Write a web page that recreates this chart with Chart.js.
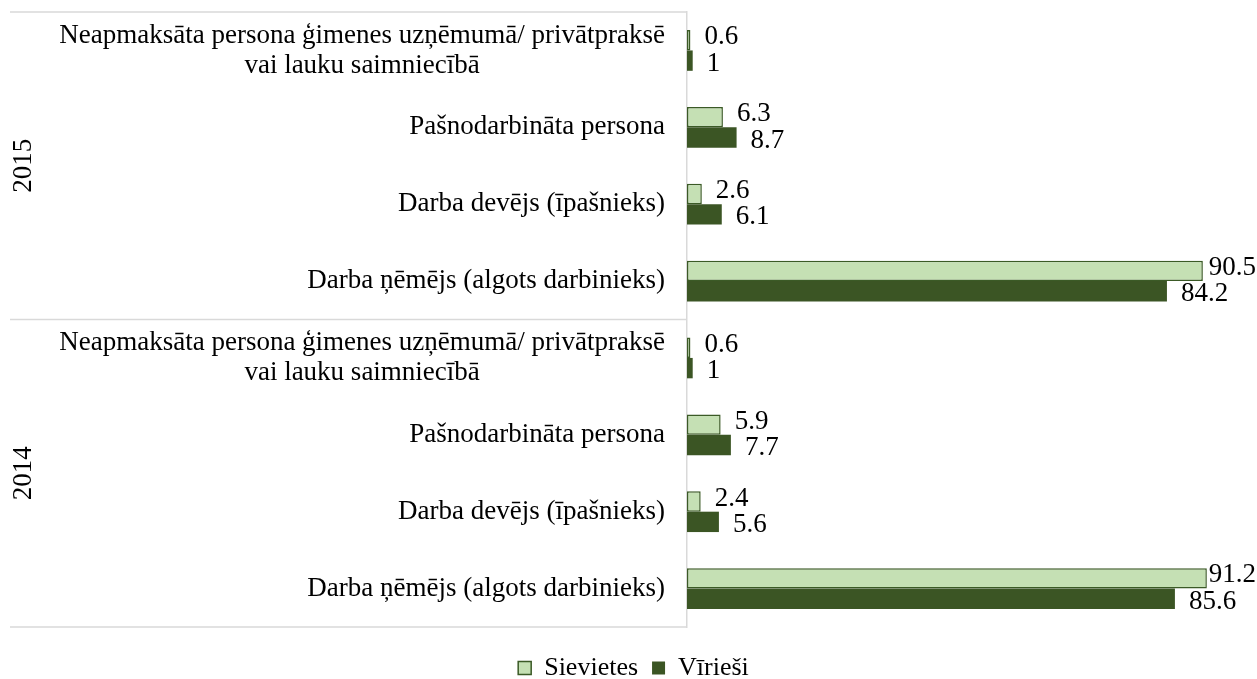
<!DOCTYPE html>
<html>
<head>
<meta charset="utf-8">
<script src="https://cdn.jsdelivr.net/npm/chart.js@4.4.0/dist/chart.umd.min.js"></script>
<style>
  html, body { margin: 0; background: #fff; }
  #wrap { width: 1257px; height: 679px; }
</style>
</head>
<body>
<div id="wrap"><canvas id="chart"></canvas></div>
<script>
// data
const years = ['2015', '2014'];
const categories = [
    ['Neapmaksāta persona ģimenes uzņēmumā/ privātpraksē', 'vai lauku saimniecībā'],
    'Pašnodarbināta persona',
    'Darba devējs (īpašnieks)',
    'Darba ņēmējs (algots darbinieks)',
];
const sievietes2015 = [0.6, 6.3, 2.6, 90.5];
const virieshi2015 = [1, 8.7, 6.1, 84.2];
const sievietes2014 = [0.6, 5.9, 2.4, 91.2];
const virieshi2014 = [1, 7.7, 5.6, 85.6];

const FAMILY = '"Liberation Serif", "Times New Roman", serif';
const FONT = '27px ' + FAMILY;

const labels = years.flatMap(() => categories);

// draws category names, years, separators and value labels
const decorations = {
    id: 'decorations',
    afterDraw(chart) {
        const ctx = chart.ctx;
        const yScale = chart.scales.y;
        const area = chart.chartArea;
        ctx.save();
        ctx.font = FONT;
        ctx.fillStyle = '#000';
        ctx.textBaseline = 'middle';

        // category labels
        const right = area.left - 22;
        chart.data.labels.forEach((lab, i) => {
            const py = yScale.getPixelForTick(i);
            const lines = Array.isArray(lab) ? lab : [lab];
            const maxW = Math.max(...lines.map(l => ctx.measureText(l).width));
            lines.forEach((l, k) => {
                const ly = py + (k - (lines.length - 1) / 2) * 30;
                ctx.textAlign = 'center';
                ctx.fillText(l, right - maxW / 2, ly);
            });
        });

        // group separators
        const per = categories.length;
        const half = (yScale.getPixelForTick(1) - yScale.getPixelForTick(0)) / 2;
        ctx.strokeStyle = '#d9d9d9';
        ctx.lineWidth = 1.5;
        const seps = [area.top];
        years.forEach((y, g) => seps.push(yScale.getPixelForTick(g * per + per - 1) + half));
        seps.forEach(sy => {
            ctx.beginPath();
            ctx.moveTo(10, sy);
            ctx.lineTo(area.left, sy);
            ctx.stroke();
        });

        // year labels
        years.forEach((yr, g) => {
            const cy = (seps[g] + seps[g + 1]) / 2;
            ctx.save();
            ctx.translate(24, cy);
            ctx.rotate(-Math.PI / 2);
            ctx.textAlign = 'center';
            ctx.fillText(yr, 0, 0);
            ctx.restore();
        });

        // value labels
        chart.data.datasets.forEach((ds, di) => {
            const meta = chart.getDatasetMeta(di);
            meta.data.forEach((bar, i) => {
                const txt = String(ds.data[i]);
                const w = ctx.measureText(txt).width;
                let x = bar.x + 14;
                if (x + w > chart.width - 1) x = chart.width - 1 - w;
                ctx.textAlign = 'left';
                ctx.fillText(txt, x, bar.y + (di === 0 ? -3 : 3));
            });
        });
        ctx.restore();
    }
};

new Chart(document.getElementById('chart'), {
    type: 'bar',
    data: {
        labels: labels,
        datasets: [
            {
                label: 'Sievietes',
                data: sievietes2015.concat(sievietes2014),
                backgroundColor: '#c5e0b4',
                borderColor: '#3b5a26',
                borderWidth: 1.5,
                borderSkipped: false,
            },
            {
                label: 'Vīrieši',
                data: virieshi2015.concat(virieshi2014),
                backgroundColor: '#3b5524',
                borderWidth: 0,
            },
        ],
    },
    options: {
        indexAxis: 'y',
        responsive: true,
        maintainAspectRatio: false,
        animation: false,
        layout: { padding: { top: 12, left: 10, right: 0, bottom: -12 } },
        scales: {
            x: {
                display: true, min: 0, max: 100,
                grid: { display: false },
                border: { display: false },
                ticks: { display: false },
                afterFit: s => { s.height = 14; },
            },
            y: {
                grid: { display: false },
                border: { display: true, color: '#d9d9d9', width: 1.5 },
                ticks: { display: false },
                afterFit: s => { s.width = 677; },
            },
        },
        datasets: { bar: { categoryPercentage: 0.53, barPercentage: 1 } },
        plugins: {
            legend: {
                position: 'bottom',
                labels: {
                    font: { family: FAMILY, size: 26 },
                    color: '#000',
                    boxWidth: 13,
                    boxHeight: 13,
                    padding: 14,
                },
            },
            tooltip: { enabled: false },
        },
    },
    plugins: [decorations],
});
</script>
</body>
</html>
